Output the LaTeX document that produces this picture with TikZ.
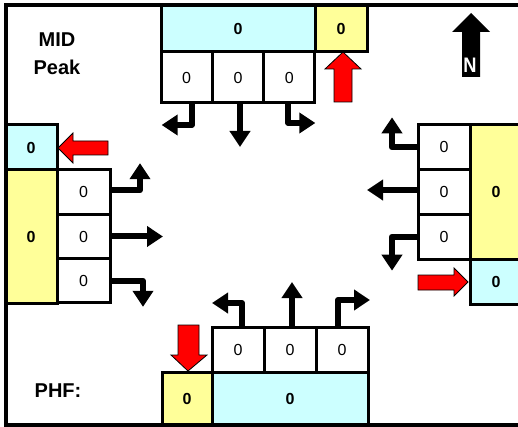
\documentclass[tikz,border=0pt]{standalone}
\usepackage{fontspec}
\setmainfont{Liberation Sans}
\usetikzlibrary{positioning,arrows.meta}
\definecolor{volcyan}{HTML}{CCFFFF}
\definecolor{pedyellow}{HTML}{FFFF99}
\definecolor{pedred}{HTML}{FF0000}

\begin{document}
\begin{tikzpicture}[x=1pt, y=-1pt,
    cell/.style={draw, line width=3pt, fill=white, inner sep=0pt, outer sep=0pt,
      minimum width=52pt, minimum height=45pt, font=\fontsize{16}{19}\selectfont},
    tot/.style={cell, fill=volcyan, font=\fontsize{16}{19}\selectfont\bfseries},
    ped/.style={cell, fill=pedyellow, font=\fontsize{16}{19}\selectfont\bfseries},
    mov/.style={line width=6pt, line join=round, -{Triangle[length=16pt, width=20pt]}},
    walk/.style={fill=pedred, draw=black, line width=0.8pt},
    lbl/.style={font=\fontsize{20}{24}\selectfont\bfseries, anchor=base}]
  \useasboundingbox (0,0) rectangle (518,427);
  \clip (0,0) rectangle (518,427);

  % southbound (top)
  \node[tot, minimum width=154pt, minimum height=47pt] (sTot) at (238,28.5) {0};
  \node[ped, minimum height=47pt, right=0pt of sTot] (sPed) {0};
  \node[cell, minimum width=51.33pt, minimum height=51pt, anchor=north west] (sL) at (sTot.south west) {0};
  \node[cell, minimum width=51.33pt, minimum height=51pt, right=0pt of sL] (sT) {0};
  \node[cell, minimum width=51.33pt, minimum height=51pt, right=0pt of sT] (sR) {0};
  \draw[mov] ([xshift=5pt]sL.south) |- ++(-30,22);
  \draw[mov] ([xshift=2pt]sT.south) -- ++(0,44);
  \draw[mov] ([xshift=-1pt]sR.south) |- ++(27,20);

  % eastbound (left)
  \node[tot] (eTot) at (31,147.5) {0};
  \node[ped, minimum height=133pt, below=0pt of eTot] (ePed) {0};
  \node[cell, minimum width=53pt, minimum height=44.33pt, anchor=north west] (eL) at (ePed.north east) {0};
  \node[cell, minimum width=53pt, minimum height=44.33pt, below=0pt of eL] (eT) {0};
  \node[cell, minimum width=53pt, minimum height=44.33pt, below=0pt of eT] (eR) {0};
  \draw[mov] ([yshift=2pt]eL.east) -| ++(30,-27);
  \draw[mov] (eT.east) -- ++(53,0);
  \draw[mov] (eR.east) -| ++(33,26);

  % westbound (right)
  \node[ped, minimum height=134pt] (wPed) at (496,192) {0};
  \node[tot, below=0pt of wPed] (wTot) {0};
  \node[cell, minimum height=44.67pt, anchor=north east] (wR) at (wPed.north west) {0};
  \node[cell, minimum height=44.67pt, below=0pt of wR] (wT) {0};
  \node[cell, minimum height=44.67pt, below=0pt of wT] (wL) {0};
  \draw[mov] (wR.west) -| ++(-26,-30);
  \draw[mov] ([yshift=2pt]wT.west) -- ++(-51,0);
  \draw[mov] (wL.west) -| ++(-26,34);

  % northbound (bottom)
  \node[cell] (nL) at (238,349.5) {0};
  \node[cell, right=0pt of nL] (nT) {0};
  \node[cell, right=0pt of nT] (nR) {0};
  \node[ped, minimum width=50pt, minimum height=53pt, anchor=north east] (nPed) at (nL.south west) {0};
  \node[tot, minimum width=156pt, minimum height=53pt, anchor=north west] (nTot) at (nL.south west) {0};
  \draw[mov] ([xshift=4pt]nL.north) |- ++(-30,-24);
  \draw[mov] ([xshift=2pt]nT.north) -- ++(0,-45);
  \draw[mov] ([xshift=-4pt]nR.north) |- ++(32,-27);

  % pedestrian arrows
  \draw[walk] (334,102) -- (334,69) -- (325,69) -- (343,52) -- (361,69) -- (352,69) -- (352,102) -- cycle;
  \draw[walk] (108,141) -- (73,141) -- (73,133) -- (58,148) -- (73,163) -- (73,155) -- (108,155) -- cycle;
  \draw[walk] (418,275) -- (454,275) -- (454,268) -- (468,282) -- (454,296) -- (454,290) -- (418,290) -- cycle;
  \draw[walk] (178,325) -- (178,355) -- (171,355) -- (188,371) -- (207,355) -- (199,355) -- (199,325) -- cycle;

  % north arrow
  \fill (462,77) -- (462,32) -- (452,32) -- (471,13) -- (490,32) -- (480,32) -- (480,77) -- cycle;
  \node[white, font=\fontsize{21}{24}\selectfont\bfseries, xscale=0.87] (north) at (470,65.5) {N};

  \node[lbl] (mid) at (57,47) {MID};
  \node[lbl] (peak) at (57,75) {Peak};
  \node[lbl] (phf) at (58,397) {PHF:};

  % frame
  \draw[line width=4pt] (522,5) -- (5.5,5) -- (5.5,425) -- (522,425);
\end{tikzpicture}
\end{document}
